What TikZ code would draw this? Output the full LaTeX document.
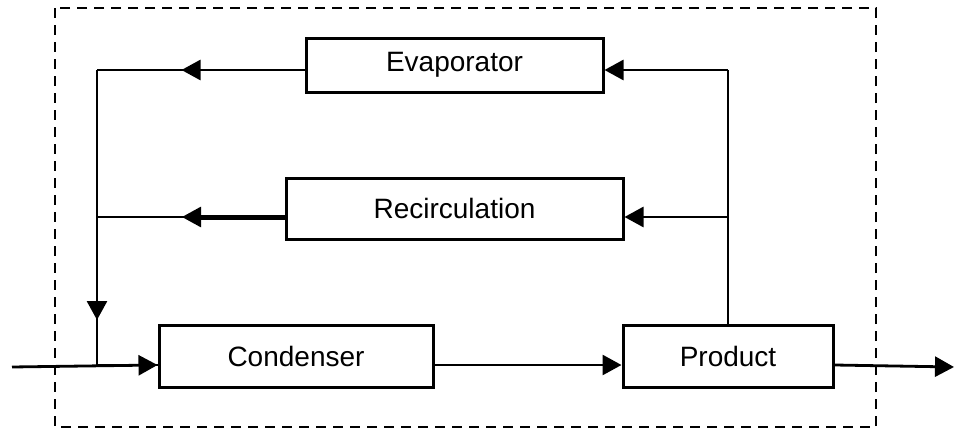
\documentclass[tikz,border=0pt]{standalone}
\usepackage{fontspec}
\setmainfont{Liberation Sans}
\usetikzlibrary{arrows.meta,decorations.markings}
\begin{document}
\begin{tikzpicture}[x=1pt,y=-1pt,
  box/.style={draw,line width=3pt,inner sep=0pt,font=\fontsize{28}{33}\selectfont},
  conn/.style={line width=2.8pt},
  tipstyle/.style={-{Triangle[length=19pt,width=20pt]}},
  midarrow/.style={postaction={decorate},decoration={markings,mark=at position #1 with {\arrow{Triangle[length=19pt,width=20pt]}}}}]
\useasboundingbox (0,0) rectangle (954,431);
\draw[line width=2.8pt,dash pattern=on 10pt off 7pt] (55,8) rectangle (876,427);
\node[box,minimum width=297pt,minimum height=54pt] (evap) at (454.5,65) {Evaporator};
\node[box,minimum width=337pt,minimum height=61pt] (recirc) at (454.5,208.5) {Recirculation};
\node[box,minimum width=274pt,minimum height=62pt] (cond) at (296,356) {Condenser};
\node[box,minimum width=210pt,minimum height=62pt] (prod) at (728,356) {Product};
\coordinate (jTop) at (97,70);
\coordinate (jMid) at (97,217);
\coordinate (jBot) at (97,365);
\coordinate (in) at (12,367);
\coordinate (out) at (954,367);
\coordinate (tTop) at (728,70);
\coordinate (tMid) at (728,217);
\coordinate (thickEnd) at (200,217);
% evaporator return
\draw[conn,midarrow=123pt] ([yshift=-5pt]evap.west) -- (jTop);
\draw[conn,midarrow=250pt] (jTop) -- (jBot);
% recirculation return
\draw[line width=5pt] ([yshift=-8.5pt]recirc.west) -- (thickEnd);
\draw[conn,midarrow=18pt] (thickEnd) -- (jMid);
% inputs
\draw[conn,tipstyle] (in) -- ([yshift=-9pt]cond.west);
\draw[conn] (jBot) -- ([yshift=-9pt]cond.west);
\draw[conn,tipstyle] ([yshift=-9pt]cond.east) -- ([yshift=-9pt]prod.west);
\draw[conn,tipstyle] ([yshift=-9pt]prod.east) -- (out);
% product feedback
\draw[conn] (prod.north) -- (tTop);
\draw[conn,tipstyle] (tTop) -- ([yshift=-5pt]evap.east);
\draw[conn,tipstyle] (tMid) -- ([yshift=-8.5pt]recirc.east);
\end{tikzpicture}
\end{document}
